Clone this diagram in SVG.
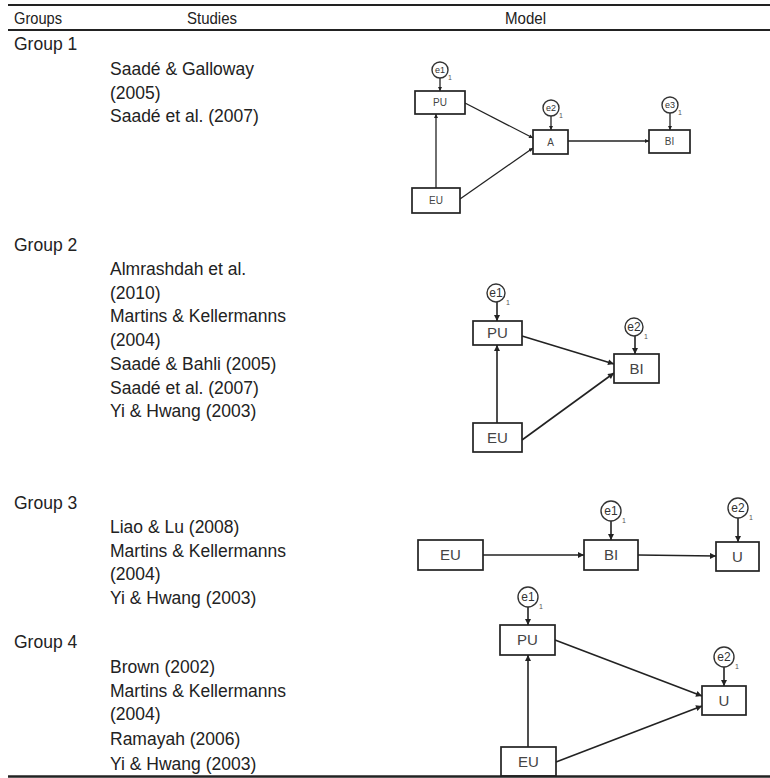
<svg xmlns="http://www.w3.org/2000/svg" width="770" height="778" viewBox="0 0 770 778">
<defs>
<style>
.t{font-family:"Liberation Sans",Arial,sans-serif;font-size:17.5px;fill:#222}
.h{font-family:"Liberation Sans",Arial,sans-serif;font-size:17px;fill:#222}
.box{fill:#fff;stroke:#222;stroke-width:1.7}
.lbl{font-family:"Liberation Sans",Arial,sans-serif;font-size:15px;fill:#444;text-anchor:middle}
.lbls{font-family:"Liberation Sans",Arial,sans-serif;font-size:10px;fill:#444;text-anchor:middle}
.err{fill:#fff;stroke:#333;stroke-width:1.4}
.et{font-family:"Liberation Sans",Arial,sans-serif;font-size:12px;fill:#333;text-anchor:middle}
.ets{font-family:"Liberation Sans",Arial,sans-serif;font-size:9px;fill:#333;text-anchor:middle}
.one{font-family:"Liberation Sans",Arial,sans-serif;font-size:7px;fill:#555}
.rule{stroke:#222}
.c line{stroke:#222;stroke-width:1.6;marker-end:url(#ah)}
.c .s{stroke-width:1.3;marker-end:url(#ahs)}
</style>
<marker id="ah" viewBox="0 0 10 10" refX="10" refY="5" markerWidth="7" markerHeight="6" markerUnits="userSpaceOnUse" orient="auto"><path d="M0,0 L10,5 L0,10 z" fill="#222"/></marker>
<marker id="ahs" viewBox="0 0 10 10" refX="10" refY="5" markerWidth="5" markerHeight="4" markerUnits="userSpaceOnUse" orient="auto"><path d="M0,0 L10,5 L0,10 z" fill="#222"/></marker>
</defs>
<rect width="770" height="778" fill="#fff"/>

<g id="table">
<line class="rule" x1="8" y1="5" x2="770" y2="5" stroke-width="2"/>
<line class="rule" x1="8" y1="30" x2="770" y2="30" stroke-width="1.8"/>
<text class="h" x="14" y="24" textLength="48" lengthAdjust="spacingAndGlyphs">Groups</text>
<text class="h" x="187" y="24" textLength="50" lengthAdjust="spacingAndGlyphs">Studies</text>
<text class="h" x="505" y="24" textLength="41" lengthAdjust="spacingAndGlyphs">Model</text>

<text class="t" x="14" y="50">Group 1</text>
<text class="t" x="110" y="75">Saadé &amp; Galloway</text>
<text class="t" x="110" y="99">(2005)</text>
<text class="t" x="110" y="122">Saadé et al. (2007)</text>

<text class="t" x="14" y="251">Group 2</text>
<text class="t" x="110" y="275">Almrashdah et al.</text>
<text class="t" x="110" y="299">(2010)</text>
<text class="t" x="110" y="322">Martins &amp; Kellermanns</text>
<text class="t" x="110" y="346">(2004)</text>
<text class="t" x="110" y="370">Saadé &amp; Bahli (2005)</text>
<text class="t" x="110" y="394">Saadé et al. (2007)</text>
<text class="t" x="110" y="417">Yi &amp; Hwang (2003)</text>

<text class="t" x="14" y="509">Group 3</text>
<text class="t" x="110" y="533">Liao &amp; Lu (2008)</text>
<text class="t" x="110" y="557">Martins &amp; Kellermanns</text>
<text class="t" x="110" y="580">(2004)</text>
<text class="t" x="110" y="604">Yi &amp; Hwang (2003)</text>

<text class="t" x="14" y="648">Group 4</text>
<text class="t" x="110" y="673">Brown (2002)</text>
<text class="t" x="110" y="697">Martins &amp; Kellermanns</text>
<text class="t" x="110" y="720">(2004)</text>
<text class="t" x="110" y="745">Ramayah (2006)</text>
<text class="t" x="110" y="770">Yi &amp; Hwang (2003)</text>
</g>

<g id="connectors" class="c">
<line class="s" x1="440" y1="78" x2="440" y2="91"/>
<line class="s" x1="551" y1="116" x2="551" y2="130"/>
<line class="s" x1="670" y1="113" x2="670" y2="130"/>
<line class="s" x1="436" y1="188" x2="436" y2="114"/>
<line class="s" x1="465" y1="103" x2="533" y2="138"/>
<line class="s" x1="460" y1="199" x2="533" y2="148"/>
<line class="s" x1="568" y1="141" x2="649" y2="141"/>
<line x1="497" y1="302" x2="497" y2="321"/>
<line x1="635" y1="336" x2="635" y2="354"/>
<line x1="497" y1="423" x2="497" y2="345"/>
<line x1="522" y1="336" x2="614" y2="364"/>
<line x1="522" y1="440" x2="614" y2="373"/>
<line x1="611" y1="521" x2="611" y2="540"/>
<line x1="738" y1="518" x2="738" y2="542"/>
<line x1="483" y1="555" x2="584" y2="555"/>
<line x1="638" y1="555" x2="716" y2="556"/>
<line x1="528" y1="607" x2="528" y2="625"/>
<line x1="724" y1="667" x2="724" y2="686"/>
<line x1="528" y1="747" x2="528" y2="655"/>
<line x1="555" y1="640" x2="702" y2="696"/>
<line x1="556" y1="762" x2="702" y2="706"/>
</g>

<g id="g1-PU"><rect class="box" x="415" y="91" width="50" height="23"/><text class="lbls" x="440" y="106">PU</text></g>
<g id="g1-EU"><rect class="box" x="412" y="188" width="48" height="25"/><text class="lbls" x="436" y="204">EU</text></g>
<g id="g1-A"><rect class="box" x="533" y="130" width="35" height="24"/><text class="lbls" x="550.5" y="146">A</text></g>
<g id="g1-BI"><rect class="box" x="649" y="130" width="41" height="23"/><text class="lbls" x="669.5" y="145">BI</text></g>
<g id="g1-e1"><circle class="err" cx="440" cy="70" r="8"/><text class="ets" x="440" y="73">e1</text><text class="one" x="448" y="80">1</text></g>
<g id="g1-e2"><circle class="err" cx="551" cy="108" r="8"/><text class="ets" x="551" y="111">e2</text><text class="one" x="559" y="118">1</text></g>
<g id="g1-e3"><circle class="err" cx="670" cy="105" r="8"/><text class="ets" x="670" y="108">e3</text><text class="one" x="678" y="115">1</text></g>

<g id="g2-PU"><rect class="box" x="473" y="321" width="49" height="24"/><text class="lbl" x="497.5" y="338">PU</text></g>
<g id="g2-BI"><rect class="box" x="614" y="354" width="45" height="29"/><text class="lbl" x="636.5" y="374">BI</text></g>
<g id="g2-EU"><rect class="box" x="473" y="423" width="49" height="29"/><text class="lbl" x="497.5" y="443">EU</text></g>
<g id="g2-e1"><circle class="err" cx="496" cy="293" r="9"/><text class="et" x="496" y="297">e1</text><text class="one" x="506" y="305">1</text></g>
<g id="g2-e2"><circle class="err" cx="634" cy="327" r="9"/><text class="et" x="634" y="331">e2</text><text class="one" x="644" y="339">1</text></g>

<g id="g3-EU"><rect class="box" x="418" y="540" width="65" height="30"/><text class="lbl" x="450.5" y="560">EU</text></g>
<g id="g3-BI"><rect class="box" x="584" y="540" width="54" height="30"/><text class="lbl" x="611" y="560">BI</text></g>
<g id="g3-U"><rect class="box" x="716" y="542" width="43" height="29"/><text class="lbl" x="737.5" y="562">U</text></g>
<g id="g3-e1"><circle class="err" cx="611" cy="511" r="10"/><text class="et" x="611" y="515">e1</text><text class="one" x="622" y="523">1</text></g>
<g id="g3-e2"><circle class="err" cx="738" cy="508" r="10"/><text class="et" x="738" y="512">e2</text><text class="one" x="749" y="520">1</text></g>

<g id="g4-PU"><rect class="box" x="500" y="625" width="55" height="30"/><text class="lbl" x="527.5" y="645">PU</text></g>
<g id="g4-U"><rect class="box" x="702" y="686" width="44" height="29"/><text class="lbl" x="724" y="706">U</text></g>
<g id="g4-EU"><rect class="box" x="501" y="747" width="55" height="29"/><text class="lbl" x="528.5" y="767">EU</text></g>
<g id="g4-e1"><circle class="err" cx="528" cy="597" r="10"/><text class="et" x="528" y="601">e1</text><text class="one" x="539" y="609">1</text></g>
<g id="g4-e2"><circle class="err" cx="724" cy="657" r="10"/><text class="et" x="724" y="661">e2</text><text class="one" x="735" y="669">1</text></g>
<line id="bottom-rule" class="rule" x1="8" y1="776.5" x2="770" y2="776.5" stroke-width="2.5"/>
</svg>
